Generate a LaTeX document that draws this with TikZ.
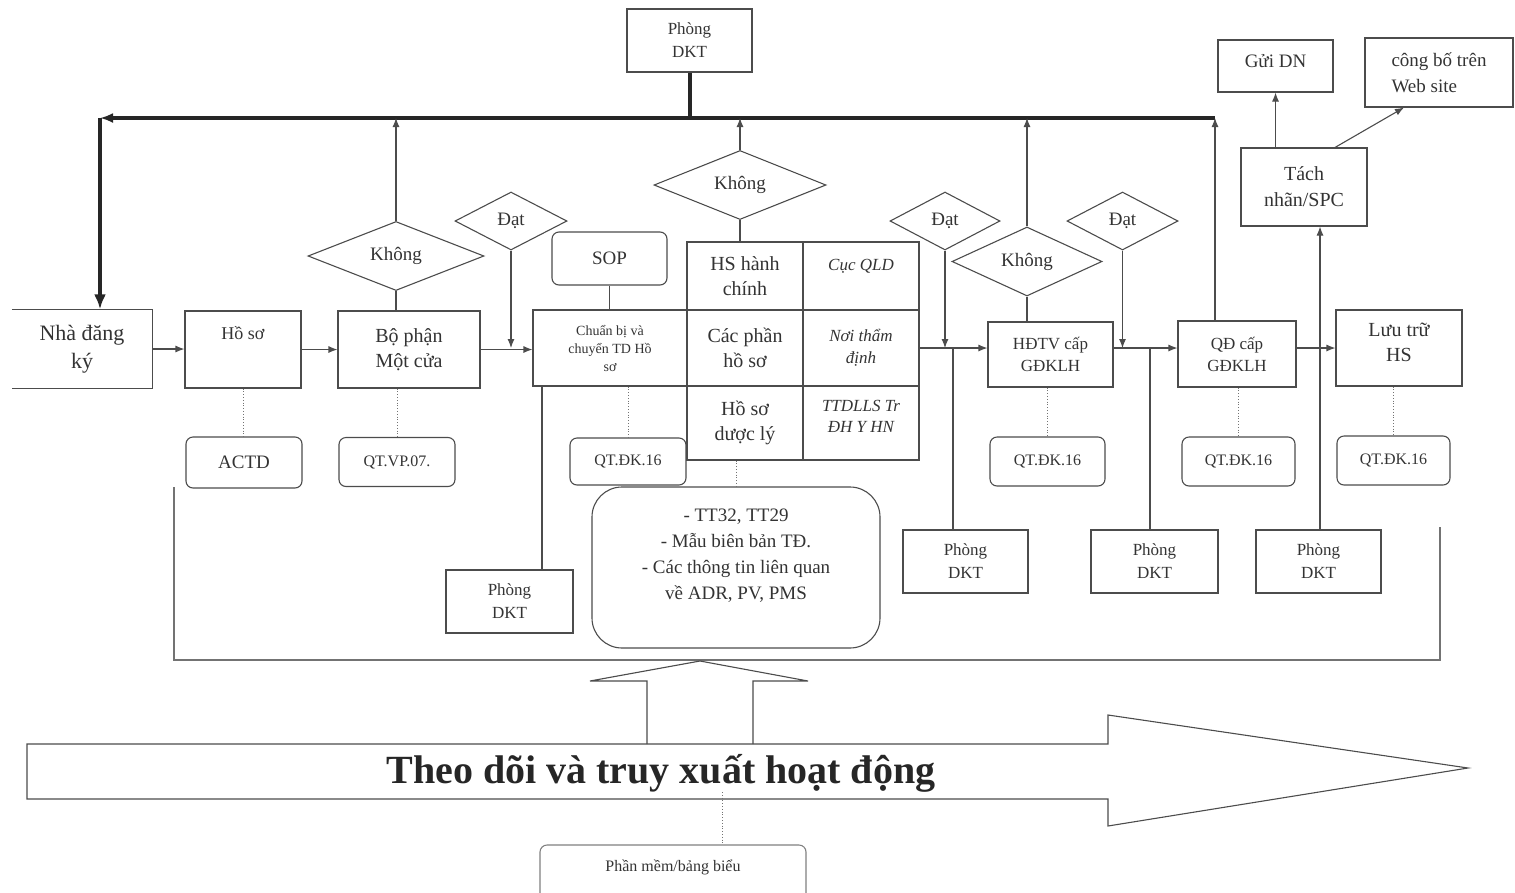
\documentclass[tikz,border=0pt]{standalone}
\usepackage{fontspec}
\setmainfont{Liberation Serif}
\usetikzlibrary{shapes.geometric,arrows.meta}
\newcommand\fsz[2]{\fontsize{#1}{#2}\selectfont}
\begin{document}
\begin{tikzpicture}[x=1pt,y=-1pt,
 ln/.style={draw=black!70,line width=1.1pt},
 box/.style={ln,rectangle,inner sep=2pt,align=center,text=black!80,font=\fsz{18}{23}},
 rbox/.style={box,rounded corners=7pt},
 dia/.style={ln,diamond,inner sep=0pt,text=black!80,font=\fsz{19}{23}},
 arr/.style={ln,-{Latex[length=9pt,width=7pt]}},
 thk/.style={draw=black!85,line width=4pt},
 dots/.style={draw=black!55,line width=0.8pt,dotted},
 dkt/.style={box,minimum width=125pt,minimum height=63pt,font=\fsz{17}{23}},
 qt/.style={rbox,minimum height=49pt,font=\fsz{16}{20}},
 cell/.style={box,minimum width=116pt},
 ]
\useasboundingbox (0,0) rectangle (1515,892);
\clip (0,0) rectangle (1515,892);

% top
\node[dkt] (dktA) at (689.5,40.5) {Phòng\\DKT};
\coordinate (TL) at (100,118);
\coordinate (TR) at (1215,118);

% left chain
\node[minimum width=140pt,minimum height=79pt,align=center,text=black!80,font=\fsz{22}{28}] (nha) at (82,349) {Nhà đăng\\ký};
\draw[ln] (nha.north west) -- (nha.north east) -- (nha.south east) -- (nha.south west);
\node[box,minimum width=116pt,minimum height=77pt] (hoso) at (243,349.5) {Hồ sơ\\[10pt]\mbox{}};
\node[box,minimum width=142pt,minimum height=77pt,font=\fsz{20}{25}] (bp) at (409,349.5) {Bộ phận\\Một cửa};
\node[dia,minimum width=176pt,minimum height=56pt] (k1) at (396,256) {Không};
\node[dia,minimum width=112pt,minimum height=58pt] (d1) at (511,221) {Đạt};
\node[rbox,minimum width=115pt,minimum height=53pt,font=\fsz{19}{23}] (sop) at (609.5,258.5) {SOP};
\node[box,minimum width=154pt,minimum height=76pt,font=\fsz{14}{18}] (cb) at (610,348) {Chuẩn bị và\\chuyển TD Hồ\\sơ};

% table
\node[cell,minimum height=68pt,font=\fsz{20}{25}] (t11) at (745,276) {HS hành\\chính};
\node[cell,minimum height=68pt,font=\itshape\fsz{17}{22}] (t12) at (861,276) {Cục QLD\\\mbox{}};
\node[cell,minimum height=76pt,font=\fsz{20}{25}] (t21) at (745,348) {Các phần\\hồ sơ};
\node[cell,minimum height=76pt,font=\itshape\fsz{17}{22}] (t22) at (861,348) {Nơi thẩm\\định};
\node[cell,minimum height=74pt,font=\fsz{20}{25}] (t31) at (745,423) {Hồ sơ\\dược lý};
\node[cell,minimum height=74pt,font=\itshape\fsz{17}{21}] (t32) at (861,423) {TTDLLS Tr\\ĐH Y HN\\[-8pt]\mbox{}};
\node[dia,minimum width=172pt,minimum height=56pt] (k2) at (740,185) {Không};

% under-row boxes
\node[rbox,minimum width=116pt,minimum height=51pt,font=\fsz{19}{23}] (actd) at (244,462.5) {ACTD};
\node[qt,minimum width=116pt] (qvp) at (397,462) {QT.VP.07.};
\node[qt,minimum width=116pt,minimum height=47pt] (qcb) at (628,461.5) {QT.ĐK.16};
\node[dkt,minimum width=127pt] (dkt1) at (509.5,601.5) {Phòng\\DKT};
\node[rbox,rounded corners=30pt,minimum width=288pt,minimum height=161pt,font=\fsz{19}{26}] (tt) at (736,567.5) {- TT32, TT29\\- Mẫu biên bản TĐ.\\- Các thông tin liên quan\\về ADR, PV, PMS\\\mbox{}};

% right part
\node[dia,minimum width=110pt,minimum height=58pt] (d2) at (945,221) {Đạt};
\node[dkt] (dkt2) at (965.5,561.5) {Phòng\\DKT};
\node[box,minimum width=125pt,minimum height=65pt,font=\fsz{17}{22}] (hd) at (1050.5,354.5) {HĐTV cấp\\GĐKLH};
\node[dia,minimum width=150pt,minimum height=57pt] (k3) at (1027,261.5) {Không};
\node[qt,minimum width=115pt] (qhd) at (1047.5,461.5) {QT.ĐK.16};
\node[dia,minimum width=111pt,minimum height=58pt] (d3) at (1122.5,221) {Đạt};
\node[dkt,minimum width=127pt] (dkt3) at (1154.5,561.5) {Phòng\\DKT};
\node[box,minimum width=118pt,minimum height=66pt,font=\fsz{17}{22}] (qd) at (1237,354) {QĐ cấp\\GĐKLH};
\node[qt,minimum width=113pt] (qqd) at (1238.5,461.5) {QT.ĐK.16};
\node[box,minimum width=126pt,minimum height=76pt,font=\fsz{20}{25}] (luu) at (1399,348) {Lưu trữ\\HS\\[-14pt]\mbox{}};
\node[qt,minimum width=113pt] (qluu) at (1393.5,460.5) {QT.ĐK.16};
\node[dkt] (dkt4) at (1318.5,561.5) {Phòng\\DKT};
\node[box,minimum width=126pt,minimum height=78pt,font=\fsz{20}{26}] (tach) at (1304,187) {Tách\\nhãn/SPC};
\node[box,minimum width=115pt,minimum height=52pt,font=\fsz{19}{23}] (gui) at (1275.5,66) {Gửi DN\\[-12pt]\mbox{}};
\node[box,minimum width=148pt,minimum height=69pt,align=left,font=\fsz{19}{26}] (web) at (1439,72.5) {công bố trên\\Web site};

% coordinates for branches
\coordinate (p1) at (542,348);
\coordinate (p2) at (953,348);
\coordinate (p3) at (1150,348);
\coordinate (p4) at (1320,348);
\coordinate (bt) at (722,792);

% thick feedback line
\draw[thk] (dktA.south) -- (dktA.south |- TL);
\draw[thk,-{Latex[length=13pt,width=10pt]}] (TR) -- (TL);
\draw[thk,-{Latex[length=15pt,width=12pt]}] (TL) -- (TL |- nha.north);

% upward "Không" lines
\draw[ln] (bp.north -| k1) -- (k1.south);
\draw[arr] (k1.north) -- (k1.north |- TL);
\draw[ln] (t11.north -| k2) -- (k2.south);
\draw[arr] (k2.north) -- (k2.north |- TL);
\draw[ln] (hd.north -| k3) -- (k3.south);
\draw[arr] (k3.north) -- (k3.north |- TL);
\draw[arr] (qd.north -| TR) -- (TR);

% main flow
\draw[arr] (nha.east) -- (nha.east -| hoso.west);
\draw[arr] (hoso.east) -- (hoso.east -| bp.west);
\draw[arr] (bp.east) -- (bp.east -| cb.west);
\draw[arr] (d1.south) -- (d1.south |- cb.west);
\draw[ln] (sop.south) -- (sop.south |- cb.north);
\draw[arr] (t22.east) -- (t22.east -| hd.west);
\draw[arr] (d2.south) -- (d2.south |- t22.east);
\draw[arr] (hd.east |- cb.west) -- (qd.west |- cb.west);
\draw[arr] (d3.south) -- (d3.south |- cb.west);
\draw[arr] (qd.east |- cb.west) -- (luu.west |- cb.west);
\draw[arr] (p4) -- (p4 |- tach.south);
\draw[arr] (tach.north -| gui) -- (gui.south);
\draw[arr] ([xshift=31pt]tach.north) -- ([xshift=-35pt]web.south);

% Phòng DKT links
\draw[ln] (p1 |- cb.south) -- (p1 |- dkt1.north);
\draw[ln] (p2) -- (p2 |- dkt2.north);
\draw[ln] (p3) -- (p3 |- dkt3.north);
\draw[ln] (p4) -- (p4 |- dkt4.north);

% dotted links
\draw[dots] (hoso.south) -- (hoso.south |- actd.north);
\draw[dots] (bp.south -| qvp) -- (qvp.north);
\draw[dots] (cb.south -| qcb) -- (qcb.north);
\draw[dots] (t31.south -| tt) -- (tt.north);
\draw[dots] (hd.south -| qhd) -- (qhd.north);
\draw[dots] (qd.south -| qqd) -- (qqd.north);
\draw[dots] (luu.south -| qluu) -- (qluu.north);

% bracket
\draw[ln,draw=black!55] (174,487) -- (174,660) -- (1440,660) -- (1440,527);

% big arrows
\draw[ln] (647,744) -- (647,681) -- (590,681) -- (700,661) -- (808,681) -- (753,681) -- (753,744);
\draw[ln] (27,744) -- (1108,744) -- (1108,715) -- (1468,768) -- (1108,826) -- (1108,799) -- (27,799) -- cycle;
\node[font=\bfseries\fsz{40}{44},text=black!85] (theo) at (661,773) {Theo dõi và truy xuất hoạt động};
\node[rbox,minimum width=266pt,minimum height=56pt,font=\fsz{16}{20},draw=black!50] (pm) at (673,873) {Phần mềm/bảng biểu\\[-6pt]\mbox{}};
\draw[dots] (bt) -- (bt |- pm.north);
\end{tikzpicture}
\end{document}
